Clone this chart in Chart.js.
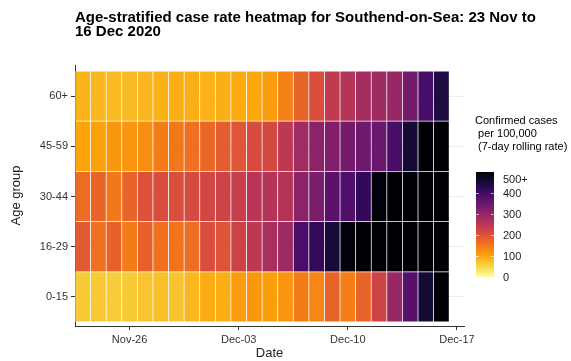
<!DOCTYPE html>
<html>
<head>
<meta charset="utf-8">
<script src="https://cdn.jsdelivr.net/npm/chart.js@4/dist/chart.umd.min.js"></script>
<style>
  html, body { margin: 0; padding: 0; background: #fff; }
</style>
</head>
<body>
<canvas id="chart" width="571" height="361"></canvas>
<script>
// days since 23 Nov 2020 (0 = Nov-23 ... 23 = Dec-16)
const dates = ['Nov-23','Nov-24','Nov-25','Nov-26','Nov-27','Nov-28','Nov-29','Nov-30',
  'Dec-01','Dec-02','Dec-03','Dec-04','Dec-05','Dec-06','Dec-07','Dec-08','Dec-09',
  'Dec-10','Dec-11','Dec-12','Dec-13','Dec-14','Dec-15','Dec-16'];
const ageGroups = ['0-15', '16-29', '30-44', '45-59', '60+'];

// confirmed cases per 100,000 (7-day rolling rate)
const rate0to15  = [62, 64, 60, 63, 68, 74, 68, 82, 93, 90, 110, 115, 108, 118, 145, 135, 175, 142, 175, 225, 295, 372, 455, 520];
const rate16to29 = [188, 160, 178, 145, 178, 160, 155, 163, 205, 198, 228, 248, 272, 288, 390, 415, 448, 495, 540, 560, 580, 600, 610, 620];
const rate30to44 = [165, 175, 150, 175, 200, 208, 205, 212, 220, 225, 235, 255, 258, 260, 310, 330, 368, 382, 418, 495, 520, 540, 560, 580];
const rate45to59 = [100, 104, 115, 118, 125, 145, 152, 160, 170, 185, 195, 210, 215, 248, 283, 310, 322, 335, 345, 350, 392, 455, 510, 530];
const rate60plus = [85, 82, 80, 78, 83, 88, 92, 90, 88, 90, 95, 98, 110, 140, 175, 205, 242, 258, 280, 286, 294, 335, 392, 442];
const rates = [rate0to15, rate16to29, rate30to44, rate45to59, rate60plus];

const xTickDays = [3, 10, 17, 24];
const xTickLabels = ['Nov-26', 'Dec-03', 'Dec-10', 'Dec-17'];
const legendTicks = [0, 100, 200, 300, 400, 500];
const legendLabels = ['0', '100', '200', '300', '400', '500+'];
const rateCap = 500;

// inferno palette, reversed so low = pale yellow, high = black
const inferno = ['#000004','#160b39','#420a68','#6a176e','#932667','#bc3754',
  '#dd513a','#f37819','#fca50a','#f6d746','#fcffa4'];

function hexToRgb(h) {
  return [parseInt(h.slice(1,3),16), parseInt(h.slice(3,5),16), parseInt(h.slice(5,7),16)];
}
function rateColor(v) {
  const t = 1 - Math.min(Math.max(v, 0), rateCap) / rateCap;
  const p = t * (inferno.length - 1);
  const i = Math.min(Math.floor(p), inferno.length - 2);
  const f = p - i;
  const a = hexToRgb(inferno[i]), b = hexToRgb(inferno[i + 1]);
  const c = a.map((x, k) => Math.round(x + (b[k] - x) * f));
  return `rgb(${c[0]},${c[1]},${c[2]})`;
}

const FONT = '"Liberation Sans", Arial, sans-serif';

const datasets = ageGroups.map((g, i) => ({
  label: g,
  data: rates[i].map((v, j) => ({ x: j, y: [i, i + 1] })),
  backgroundColor: rates[i].map(v => rateColor(v)),
  borderColor: 'rgba(255,255,255,0.22)',
  borderWidth: 0.7,
  borderSkipped: false,
  grouped: false,
  categoryPercentage: 1,
  barPercentage: 1
}));

const overlay = {
  id: 'overlay',
  afterDraw(chart) {
    const ctx = chart.ctx;
    ctx.save();
    // title
    ctx.fillStyle = '#000';
    ctx.font = 'bold 15px ' + FONT;
    ctx.textBaseline = 'middle';
    ctx.textAlign = 'left';
    ctx.fillText('Age-stratified case rate heatmap for Southend-on-Sea: 23 Nov to', 75, 18);
    ctx.fillText('16 Dec 2020', 75, 32);

    // colour bar legend
    ctx.font = '11px ' + FONT;
    ctx.fillStyle = '#000';
    ctx.fillText('Confirmed cases', 475, 121);
    ctx.fillText(' per 100,000', 475, 134);
    ctx.fillText(' (7-day rolling rate)', 475, 147);

    const bx = 476, bw = 18, bTop = 172, bBot = 277;
    const grad = ctx.createLinearGradient(0, bBot, 0, bTop);
    for (let k = 0; k <= 20; k++) {
      grad.addColorStop(k / 20, rateColor(rateCap * k / 20));
    }
    ctx.fillStyle = grad;
    ctx.fillRect(bx, bTop, bw, bBot - bTop);

    const yOf = v => bBot - (bBot - bTop) * v / rateCap;
    ctx.strokeStyle = 'rgba(255,255,255,0.6)';
    ctx.lineWidth = 1;
    legendTicks.forEach(v => {
      if (v === 0 || v === rateCap) return;
      const y = Math.round(yOf(v)) + 0.5;
      ctx.beginPath();
      ctx.moveTo(bx, y); ctx.lineTo(bx + 3, y);
      ctx.moveTo(bx + bw - 3, y); ctx.lineTo(bx + bw, y);
      ctx.stroke();
    });
    ctx.fillStyle = '#222';
    legendTicks.forEach((v, k) => {
      let y = yOf(v);
      if (v === rateCap) y += 7;
      ctx.fillText(legendLabels[k], 503, y + 1);
    });
    ctx.restore();
  }
};

new Chart(document.getElementById('chart'), {
  type: 'bar',
  data: { datasets },
  options: {
    responsive: false,
    animation: false,
    events: [],
    devicePixelRatio: 1,
    layout: { padding: { left: 0, top: 65, right: 107, bottom: 0 } },
    plugins: { legend: { display: false }, tooltip: { enabled: false } },
    scales: {
      x: {
        type: 'linear',
        offset: false,
        min: -0.5,
        max: 24.45,
        afterBuildTicks: s => { s.ticks = xTickDays.map(v => ({ value: v })); },
        afterFit: s => { s.height = 35; },
        ticks: {
          autoSkip: false,
          maxRotation: 0,
          padding: 3,
          color: '#333',
          font: { family: FONT, size: 11 },
          callback: v => xTickLabels[xTickDays.indexOf(v)]
        },
        grid: { offset: false, drawOnChartArea: false, tickLength: 4, tickColor: '#333' },
        border: { display: true, color: '#333', width: 1 },
        title: { display: true, text: 'Date', color: '#222', font: { family: FONT, size: 13 }, padding: { top: 0, bottom: 0 } }
      },
      y: {
        type: 'linear',
        min: -0.08,
        max: 5.12,
        afterBuildTicks: s => { s.ticks = ageGroups.map((g, i) => ({ value: i + 0.5 })); },
        afterFit: s => { s.width = 75; },
        ticks: {
          autoSkip: false,
          padding: 3,
          color: '#333',
          font: { family: FONT, size: 11 },
          callback: v => ageGroups[Math.round(v - 0.5)]
        },
        grid: { color: '#ececec', lineWidth: 1, tickLength: 4, tickColor: '#333' },
        border: { display: true, color: '#333', width: 1 },
        title: { display: true, text: 'Age group', color: '#222', font: { family: FONT, size: 13 }, padding: { top: 9, bottom: 0 } }
      }
    }
  },
  plugins: [overlay]
});
</script>
</body>
</html>
